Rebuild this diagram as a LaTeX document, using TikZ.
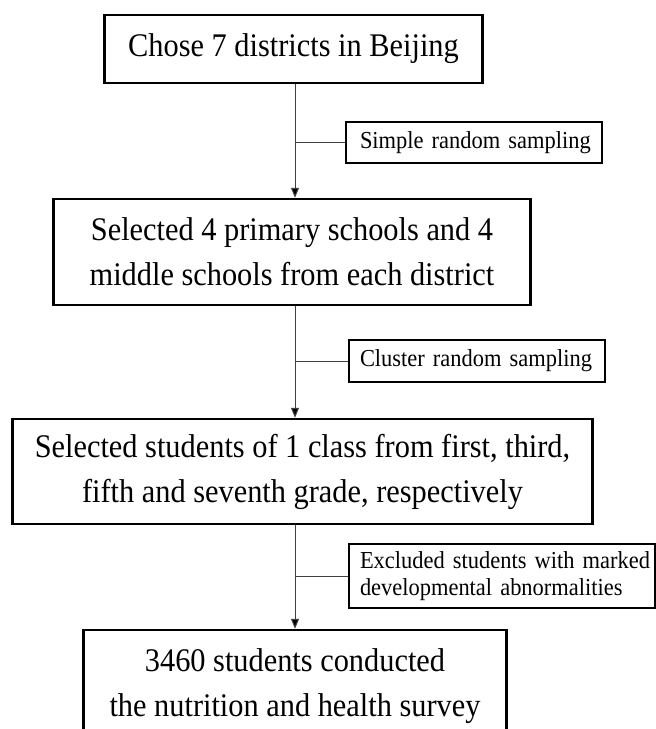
\documentclass[tikz,border=0pt]{standalone}
\usepackage{fontspec}
\setmainfont[FakeStretch=0.92]{Liberation Serif}
\usetikzlibrary{arrows.meta}
\begin{document}
\begin{tikzpicture}[x=1pt,y=-1pt,
  mainbox/.style={draw=black,line width=2.5pt,align=center,inner sep=0pt,
    font=\fontsize{33}{45}\selectfont},
  sidebox/.style={draw=black,line width=1.4pt,align=left,inner ysep=0pt,
    font=\fontsize{24.4}{26.5}\selectfont},
  flow/.style={draw=black!75,line width=1pt,-{Triangle[length=10pt,width=8pt,fill=black]}},
  tick/.style={draw=black!75,line width=1pt}]
\useasboundingbox (0,0) rectangle (656,729);
\node[mainbox,minimum width=378pt,minimum height=68pt] (b1) at (293.5,49) {Chose 7 districts in Beijing};
\node[mainbox,minimum width=477pt,minimum height=106pt] (b2) at (292,252)
  {Selected 4 primary schools and 4\\middle schools from each district};
\node[mainbox,minimum width=580pt,minimum height=105pt] (b3) at (302.5,471.5)
  {Selected students of 1 class from first, third,\\fifth and seventh grade, respectively};
\node[mainbox,minimum width=423pt,minimum height=112pt] (b4) at (295,686)
  {3460 students conducted\\the nutrition and health survey};
\node[sidebox,minimum height=41pt,inner xsep=14pt,text width=228pt] (s1) at (474,142.5)
  {\mbox{Simple random sampling}};
\node[sidebox,minimum height=42pt,inner xsep=11pt,text width=234pt] (s2) at (477,361)
  {\mbox{Cluster random sampling}};
\node[sidebox,minimum height=64pt,inner xsep=11pt,text width=284pt] (s3) at (502,576)
  {\mbox{Excluded students with marked}\\\mbox{developmental abnormalities}};
\coordinate (ax) at (295,0);
\draw[flow] (ax |- b1.south) -- (ax |- b2.north);
\draw[flow] (ax |- b2.south) -- (ax |- b3.north);
\draw[flow] (ax |- b3.south) -- (ax |- b4.north);
\draw[tick] (ax |- s1.west) -- (s1.west);
\draw[tick] (ax |- s2.west) -- (s2.west);
\draw[tick] (ax |- s3.west) -- (s3.west);
\end{tikzpicture}
\end{document}
